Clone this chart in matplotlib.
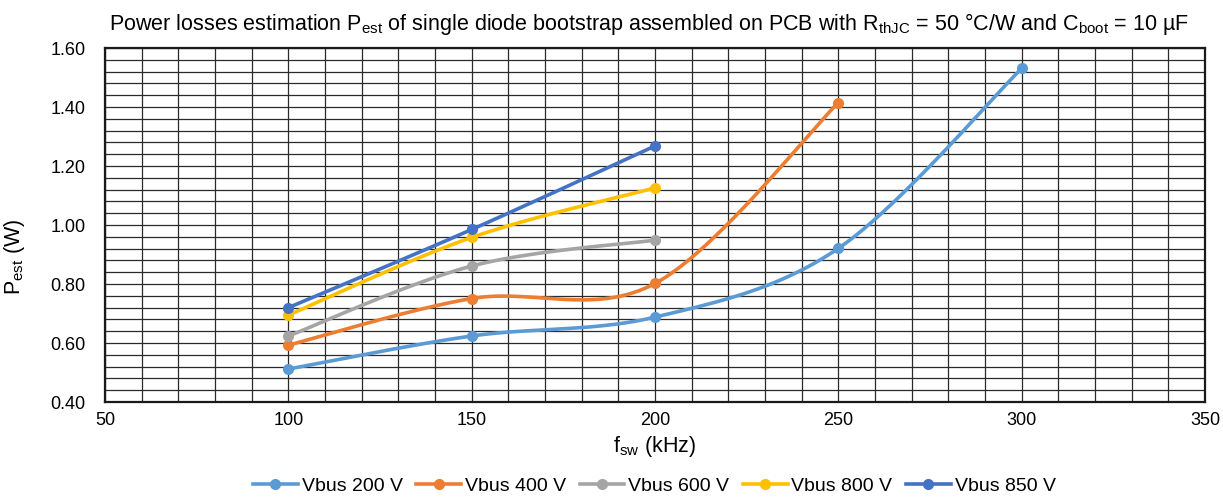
import numpy as np
import matplotlib
matplotlib.use("Agg")
import matplotlib.pyplot as plt
from matplotlib.ticker import MultipleLocator

plt.rcParams['font.family'] = ['Liberation Sans', 'DejaVu Sans']
plt.rcParams['mathtext.default'] = 'regular'

fsw_200 = [100, 150, 200, 250, 300]
p_200 = [0.512, 0.624, 0.688, 0.921, 1.531]
fsw_400 = [100, 150, 200, 250]
p_400 = [0.593, 0.751, 0.802, 1.415]
fsw_600 = [100, 150, 200]
p_600 = [0.624, 0.861, 0.949]
fsw_800 = [100, 150, 200]
p_800 = [0.695, 0.958, 1.126]
fsw_850 = [100, 150, 200]
p_850 = [0.720, 0.985, 1.268]

labels = ["Vbus 200 V", "Vbus 400 V", "Vbus 600 V", "Vbus 800 V", "Vbus 850 V"]
colors = ["#5B9BD5", "#ED7D31", "#A5A5A5", "#FFC000", "#4472C4"]
series = [(fsw_200, p_200), (fsw_400, p_400), (fsw_600, p_600), (fsw_800, p_800), (fsw_850, p_850)]


def smooth(x, y, n=60):
    P = np.column_stack([x, y]).astype(float)
    m = len(P)
    out = []
    for i in range(m - 1):
        p0 = P[i - 1] if i > 0 else P[i]
        p1 = P[i]
        p2 = P[i + 1]
        p3 = P[i + 2] if i + 2 < m else P[i + 1]
        c1 = p1 + (p2 - p0) / 6.0
        c2 = p2 - (p3 - p1) / 6.0
        t = np.linspace(0, 1, n)[:, None]
        seg = ((1 - t) ** 3) * p1 + 3 * ((1 - t) ** 2) * t * c1 + 3 * (1 - t) * t ** 2 * c2 + t ** 3 * p2
        out.append(seg if i == 0 else seg[1:])
    seg = np.vstack(out)
    return seg[:, 0], seg[:, 1]


fig = plt.figure(figsize=(12.23, 4.97), dpi=100)
ax = fig.add_axes([0.0859, 0.191, 0.8994, 0.7124])

for (x, y), c, lab in zip(series, colors, labels):
    sx, sy = smooth(x, y)
    ax.plot(sx, sy, color=c, lw=2.6, solid_capstyle='round', zorder=3)
    ax.plot(x, y, 'o', color=c, ms=7, zorder=4)
    ax.plot([], [], '-o', color=c, lw=2.6, ms=7, label=lab)

ax.set_xlim(50, 350)
ax.set_ylim(0.40, 1.60)
ax.xaxis.set_major_locator(MultipleLocator(50))
ax.xaxis.set_minor_locator(MultipleLocator(10))
ax.yaxis.set_major_locator(MultipleLocator(0.2))
ax.yaxis.set_minor_locator(MultipleLocator(0.04))
ax.grid(which='both', color='#2a2a2a', lw=0.9, zorder=0)
ax.set_axisbelow(True)
ax.tick_params(which='both', length=0, labelsize=13)
ax.tick_params(axis='y', pad=14)
ax.tick_params(axis='x', pad=7)
ax.set_yticklabels([f"{v:.2f}" for v in ax.get_yticks()])
for s in ax.spines.values():
    s.set_linewidth(1.6)
    s.set_color('#1a1a1a')

ax.set_xlabel("f$_{sw}$ (kHz)", fontsize=15.5, labelpad=4)
ax.set_ylabel("P$_{est}$ (W)", fontsize=15.5)
ax.yaxis.set_label_coords(-0.071, 0.41)
fig.text(0.531, 0.952, "Power losses estimation P$_{est}$ of single diode bootstrap assembled on PCB with "
         "R$_{thJC}$ = 50 °C/W and C$_{boot}$ = 10 µF", fontsize=15.5, ha='center', va='center')

fig.legend(loc='center', bbox_to_anchor=(0.535, 0.022), ncol=5, frameon=False, fontsize=14,
           handlelength=2.3, handletextpad=0.2, columnspacing=0.7, borderpad=0.2)

fig.savefig("out.png", dpi=100)
